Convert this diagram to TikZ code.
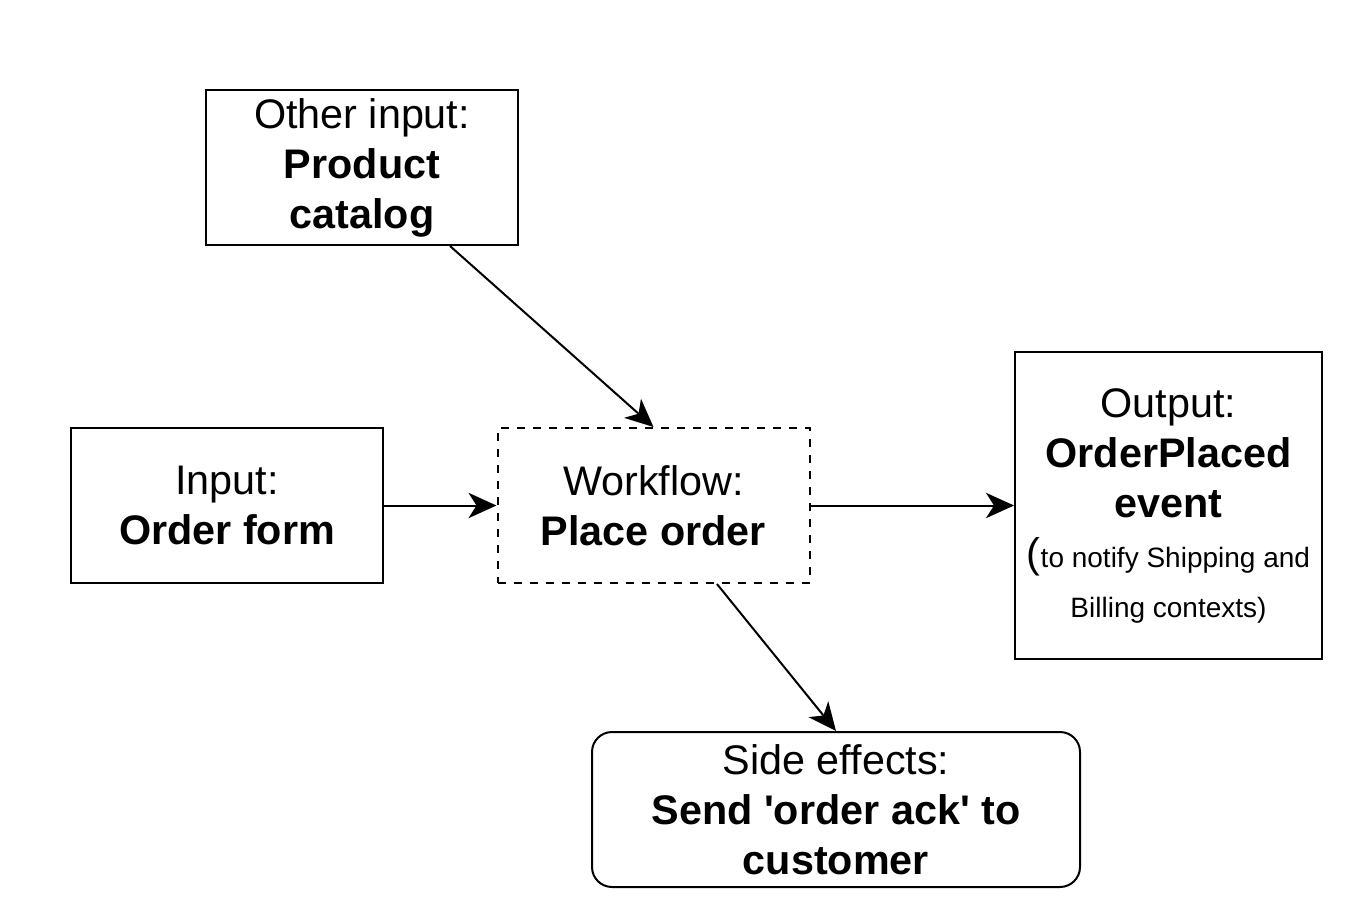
\documentclass[tikz,border=0pt]{standalone}
\usepackage{fontspec}
\setmainfont{Liberation Sans}
\usetikzlibrary{arrows.meta}
\newcommand{\smalltxt}{\fontsize{21}{37.5}\selectfont}

\begin{document}
\begin{tikzpicture}[x=0.75pt, y=0.75pt,
    box/.style={draw, line width=1.5pt, align=center, inner sep=0pt,
      minimum width=234pt, minimum height=116.25pt,
      font=\fontsize{31}{37.5}\selectfont},
    arr/.style={-{Stealth[length=21pt, width=19pt, inset=6pt]}, line width=1.5pt}]
      \useasboundingbox (0,0) rectangle (1348,-912);

      \draw (362,-167.5) node[box] (catalog) {Other input:\\\textbf{Product}\\\textbf{catalog}\vphantom{O}};
      \draw (227,-505.5) node[box] (input) {Input:\\\textbf{Order form}};
      \draw (653.5,-505.5) node[box, dash pattern=on 6pt off 6pt] (work) {Workflow:\\\textbf{Place order}};
      \draw (1168.5,-505.5) node[box, minimum width=230.25pt, minimum height=230.25pt] (output)
        {Output:\\\textbf{OrderPlaced}\\\textbf{event}\\({\smalltxt to notify Shipping and}\\{\smalltxt Billing contexts)}};
      \draw (836,-809.5) node[box, minimum width=366pt, rounded corners=15pt] (side)
        {Side effects:\\\textbf{Send \textquotesingle order ack\textquotesingle{} to}\\\textbf{customer}};

      \draw[arr] (catalog) -- (work.north);
      \draw[arr] (input) -- (work);
      \draw[arr] (work) -- (output);
      \draw[arr] (work) -- (side.north);
\end{tikzpicture}
\end{document}
